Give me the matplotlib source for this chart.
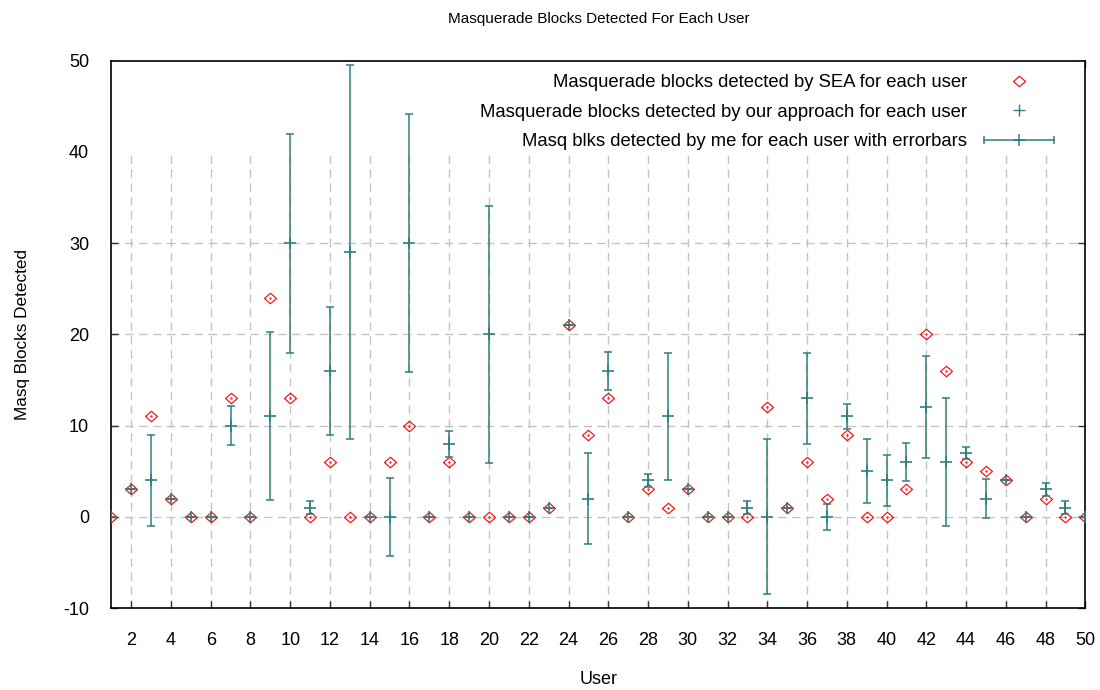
import matplotlib.pyplot as plt
from matplotlib.lines import Line2D
from matplotlib.legend_handler import HandlerLine2D, HandlerTuple

# Masquerade blocks per user
users = list(range(1, 51))
sea_blocks = [0, 3, 11, 2, 0, 0, 13, 0, 24, 13,
              0, 6, 0, 0, 6, 10, 0, 6, 0, 0,
              0, 0, 1, 21, 9, 13, 0, 3, 1, 3,
              0, 0, 0, 12, 1, 6, 2, 9, 0, 0,
              3, 20, 16, 6, 5, 4, 0, 2, 0, 0]
our_blocks = [0, 3, 4, 2, 0, 0, 10, 0, 11, 30,
              1, 16, 29, 0, 0, 30, 0, 8, 0, 20,
              0, 0, 1, 21, 2, 16, 0, 4, 11, 3,
              0, 0, 1, 0, 1, 13, 0, 11, 5, 4,
              6, 12, 6, 7, 2, 4, 0, 3, 1, 0]
our_errors = [0, 0, 5, 0, 0, 0, 2.1, 0, 9.2, 12,
              0.7, 7, 20.5, 0, 4.3, 14.1, 0, 1.4, 0, 14.1,
              0, 0, 0, 0, 5, 2.1, 0, 0.7, 7, 0,
              0, 0, 0.7, 8.5, 0, 5, 1.4, 1.4, 3.5, 2.8,
              2.1, 5.6, 7, 0.7, 2.1, 0, 0, 0.7, 0.7, 0]
x_ticks = list(range(2, 51, 2))
y_ticks = list(range(-10, 51, 10))

teal = '#2f7f7f'
red = '#ff0000'
diamond = [(-1, 0), (0, 0.88), (1, 0), (0, -0.88), (-1, 0)]

plt.rcParams['font.family'] = ['Liberation Sans', 'DejaVu Sans']
plt.rcParams['font.size'] = 13
plt.rcParams['axes.unicode_minus'] = False

fig = plt.figure(figsize=(11, 6.9), dpi=100)
ax = fig.add_axes([0.1012, 0.1188, 0.8855, 0.7934])

# key area is opaque in the original, it hides the grid up top
ax.axhspan(39.6, 50, color='white', zorder=1, lw=0)

sea, = ax.plot(users, sea_blocks, linestyle='none', marker=diamond, markersize=8.6,
               markerfacecolor='none', markeredgecolor=red, markeredgewidth=0.8, zorder=3)
ax.plot(users, sea_blocks, linestyle='none', marker='.', markersize=1.2, color=red, zorder=3)
ax.errorbar(users, our_blocks, yerr=our_errors, fmt='none', ecolor=teal,
            elinewidth=1.1, capsize=2.6, capthick=1.1, zorder=4)
ours, = ax.plot(users, our_blocks, linestyle='none', marker='+', markersize=8,
                markeredgewidth=1.2, color=teal, zorder=5)

ax.set_xlim(1, 50)
ax.set_ylim(-10, 50)
ax.set_xticks(x_ticks)
ax.set_yticks(y_ticks)
ax.tick_params(direction='in', length=5, width=1, top=True, right=True, color='#333333')
ax.tick_params(axis='x', pad=17)
ax.tick_params(axis='y', pad=16)
for s in ax.spines.values():
    s.set_linewidth(1.2)

ax.set_axisbelow(True)
ax.grid(True, color='#c4c4c4', linestyle=(0, (6, 4)), linewidth=1)

ax.set_title('Masquerade Blocks Detected For Each User', fontsize=11, pad=27)
ax.set_xlabel('User', labelpad=16)
ax.set_ylabel('Masq Blocks Detected', fontsize=12.3, labelpad=24)

# gnuplot style key: text right aligned, sample on the right
key_plus = Line2D([], [], linestyle='none', marker='+', markersize=8,
                  markeredgewidth=1.0, color=teal)
key_line = Line2D([], [], color=teal, linewidth=1.1, marker='|',
                  markersize=6, markeredgewidth=1.1)
key_err = Line2D([], [], linestyle='none', marker='+', markersize=8,
                 markeredgewidth=1.1, color=teal)
ax.legend([sea, key_plus, (key_line, key_err)],
          ['Masquerade blocks detected by SEA for each user',
           'Masquerade blocks detected by our approach for each user',
           'Masq blks detected by me for each user with errorbars'],
          handler_map={key_line: HandlerLine2D(numpoints=2, marker_pad=0),
                       tuple: HandlerTuple(ndivide=1, pad=0)},
          loc='upper right', bbox_to_anchor=(0.968, 0.975), frameon=False,
          markerfirst=False, borderpad=0, borderaxespad=0, fontsize=13.3,
          handlelength=3.8, handletextpad=0.9, labelspacing=0.68)

plt.savefig('out.png')
